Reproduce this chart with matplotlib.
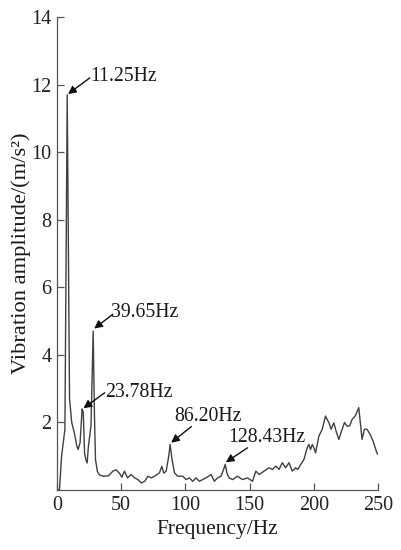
import matplotlib.pyplot as plt
import numpy as np

plt.rcParams['font.family'] = ['Liberation Serif', 'DejaVu Serif']

# Spectrum
freq = [0, 2.0, 3.6, 6.2, 8.0, 9.8, 11.5, 13.5, 15.5, 16.5, 18.0, 19.6, 20.5, 21.5, 22.5,
        23.5, 24.5, 26.5, 28.2, 29.2, 30.0, 31.5, 33, 36, 40, 43.6, 46, 48.6, 50.5, 52.5,
        55, 57.6, 60.5, 63, 65.7, 68.3, 70.8, 73.4, 76, 79.8, 81.6, 83.2, 85, 87, 88.1,
        89.6, 91.5, 94, 98, 100.5, 103, 105.7, 108.3, 110.8, 113.4, 116, 120, 122.5, 125,
        127.7, 129.7, 131, 132.3, 134, 136.7, 140.5, 144.4, 148.3, 152.2, 154.8, 157.4,
        161.2, 165.1, 167.7, 170.3, 172.9, 175.4, 178, 180.6, 183.2, 185.8, 187.5, 189.6,
        192.2, 194.8, 196.1, 197.4, 198.7, 200, 201.3, 203.9, 206.5, 209, 211.7, 213.4,
        215.5, 217.6, 219.4, 222, 223.8, 225.8, 227.9, 229.7, 232.3, 234.9, 237.5, 239.3,
        241.3, 243.9, 246.5, 249, 250]
amp = [0, 0.02, 1.0, 1.8, 11.7, 2.7, 2.0, 1.7, 1.3, 1.2, 1.4, 2.4, 2.3, 1.1, 0.9,
       0.8, 1.3, 1.9, 4.7, 2.2, 0.9, 0.55, 0.45, 0.41, 0.42, 0.56, 0.6, 0.5, 0.38, 0.56,
       0.36, 0.46, 0.36, 0.31, 0.21, 0.26, 0.41, 0.36, 0.41, 0.51, 0.7, 0.5, 0.56, 1.0, 1.35,
       0.9, 0.51, 0.41, 0.41, 0.31, 0.36, 0.26, 0.36, 0.26, 0.31, 0.36, 0.46, 0.26, 0.36,
       0.41, 0.61, 0.76, 0.5, 0.36, 0.31, 0.41, 0.31, 0.36, 0.26, 0.56, 0.46,
       0.56, 0.66, 0.61, 0.71, 0.61, 0.81, 0.66, 0.81, 0.56, 0.66, 0.61, 0.75,
       0.9, 1.25, 1.35, 1.2, 1.35, 1.25, 1.1, 1.6, 1.8, 2.19, 1.99, 1.8,
       1.99, 1.7, 1.5, 1.8, 2.0, 1.89, 1.9, 2.09, 2.2, 2.44, 1.5, 1.8,
       1.8, 1.64, 1.4, 1.1, 1.05]

# peak labels: text, arrow tip, arrow tail, text position
labels = ['11.25Hz', '39.65Hz', '23.78Hz', '86.20Hz', '128.43Hz']
tips = [(8.6, 11.72), (29.0, 4.78), (20.6, 2.42), (88.9, 1.40), (131.4, 0.82)]
tails = [(25.6, 12.2), (43.4, 5.2), (37.2, 2.88), (104.6, 1.88), (148.3, 1.25)]
text_pos = [(25.8, 12.25), (42.2, 5.25), (37.2, 2.88), (91.0, 2.17), (133.4, 1.57)]

fig = plt.figure(figsize=(4.01, 5.5), dpi=100)
ax = fig.add_axes([0.142, 0.109, 0.801, 0.860])

ax.plot(freq, amp, color='#404040', lw=1.0)

for lab, tip, tail, pos in zip(labels, tips, tails, text_pos):
    ax.annotate('', xy=tip, xytext=tail,
                arrowprops=dict(arrowstyle='-|>', color='#111111', lw=1.0,
                                mutation_scale=12, shrinkA=0, shrinkB=0))
    ax.text(pos[0], pos[1], lab, ha='left', va='center', fontsize=14.2, color='#1a1a1a')

ax.set_xlim(0, 250)
ax.set_ylim(0, 14)
ax.set_xticks(np.arange(0, 251, 50))
ax.set_yticks(np.arange(2, 15, 2))
ax.tick_params(direction='in', length=5, width=0.9, color='#555555',
               labelsize=14.5, labelcolor='#222222', pad=4)

for side in ['top', 'right']:
    ax.spines[side].set_visible(False)
for side in ['left', 'bottom']:
    ax.spines[side].set_color('#555555')
    ax.spines[side].set_linewidth(0.9)

ax.set_xlabel('Frequency/Hz', fontsize=15.5, color='#1a1a1a', labelpad=4)
ax.set_ylabel('Vibration amplitude/(m/s²)', fontsize=16.2, color='#1a1a1a')
ax.yaxis.set_label_coords(-0.08, 0.5)

fig.savefig('out.png', dpi=100)
